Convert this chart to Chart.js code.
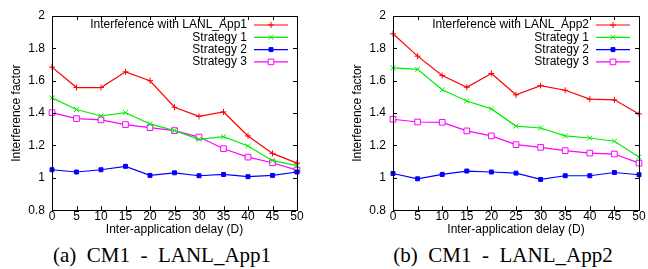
<!DOCTYPE html>
<html>
<head>
<meta charset="utf-8">
<script src="https://cdn.jsdelivr.net/npm/chart.js@4.4.0/dist/chart.umd.min.js"></script>
<style>
  body { margin: 0; background: #fff; }
  #wrap { position: relative; width: 648px; height: 269px; overflow: hidden; }
  .box { position: absolute; top: 0; width: 307px; height: 238px; }
  .cap { position: absolute; top: 243px; font-family: "Liberation Serif", "DejaVu Serif", serif;
         font-size: 21px; white-space: pre; transform: translateX(-50%); }
</style>
</head>
<body>
<div id="wrap">
  <div class="box" style="left:0"><canvas id="c1"></canvas></div>
  <div class="box" style="left:341px"><canvas id="c2"></canvas></div>
  <div class="cap" style="left:162px">(a)  CM1  -  LANL_App1</div>
  <div class="cap" style="left:503px">(b)  CM1  -  LANL_App2</div>
</div>
<script>
// ==== Data ====
const delays = [0, 5, 10, 15, 20, 25, 30, 35, 40, 45, 50];
const yTicks = [0.8, 1, 1.2, 1.4, 1.6, 1.8, 2];

const app1Base = [1.684, 1.558, 1.558, 1.655, 1.60, 1.436, 1.38, 1.407, 1.259, 1.151, 1.091];
const app1S1 = [1.494, 1.422, 1.382, 1.403, 1.333, 1.292, 1.238, 1.254, 1.197, 1.106, 1.075];
const app1S2 = [1.05, 1.036, 1.05, 1.071, 1.015, 1.031, 1.013, 1.021, 1.007, 1.015, 1.036];
const app1S3 = [1.403, 1.366, 1.358, 1.329, 1.31, 1.292, 1.252, 1.18, 1.128, 1.093, 1.048];

const app2Base = [1.89, 1.752, 1.632, 1.56, 1.645, 1.513, 1.57, 1.541, 1.486, 1.482, 1.395];
const app2S1 = [1.68, 1.67, 1.544, 1.475, 1.426, 1.32, 1.308, 1.259, 1.246, 1.226, 1.128];
const app2S2 = [1.027, 0.994, 1.021, 1.042, 1.036, 1.029, 0.99, 1.013, 1.013, 1.033, 1.019];
const app2S3 = [1.362, 1.345, 1.343, 1.29, 1.259, 1.205, 1.188, 1.168, 1.153, 1.147, 1.091];

const FONT = 'Liberation Sans, Arial, Helvetica, sans-serif';

// ==== Series styles ====
function series(label, data, color, style, radius, fill) {
    return {
        label, data,
        borderColor: color,
        backgroundColor: fill || color,
        borderWidth: 1.2,
        pointStyle: style,
        pointRadius: radius,
        pointBorderWidth: 1,
        pointHoverRadius: radius,
        tension: 0
    };
}

// ==== Frame, inside ticks and key (gnuplot look) ====
const gnuplotFrame = {
    id: 'gnuplotFrame',
    afterDatasetsDraw(chart) {
        const ctx = chart.ctx;
        const a = chart.chartArea;
        const xs = chart.scales.x, ys = chart.scales.y;
        ctx.save();
        ctx.strokeStyle = '#000';
        ctx.lineWidth = 1;
        ctx.beginPath();
        yTicks.forEach(v => {
            const y = Math.round(ys.getPixelForValue(v)) + 0.5;
            ctx.moveTo(a.left, y); ctx.lineTo(a.left + 4, y);
            ctx.moveTo(a.right, y); ctx.lineTo(a.right - 4, y);
        });
        delays.forEach((d, i) => {
            const x = Math.round(xs.getPixelForValue(i)) + 0.5;
            ctx.moveTo(x, a.top); ctx.lineTo(x, a.top + 4);
            ctx.moveTo(x, a.bottom); ctx.lineTo(x, a.bottom - 4);
        });
        ctx.stroke();
        ctx.strokeRect(Math.round(a.left) + 0.5, Math.round(a.top) + 0.5,
            Math.round(a.right - a.left), Math.round(a.bottom - a.top));

        // key
        ctx.font = '12px ' + FONT;
        ctx.textAlign = 'right';
        ctx.textBaseline = 'middle';
        chart.data.datasets.forEach((ds, i) => {
            const y = a.top + 9 + i * 12.3;
            ctx.fillStyle = '#000';
            ctx.fillText(ds.label, a.right - 50, y);
            ctx.strokeStyle = ds.borderColor;
            ctx.lineWidth = ds.borderWidth;
            ctx.beginPath();
            ctx.moveTo(a.right - 43, y); ctx.lineTo(a.right - 9, y);
            ctx.stroke();
            ctx.fillStyle = ds.backgroundColor;
            ctx.lineWidth = 1;
            Chart.helpers.drawPoint(ctx, { pointStyle: ds.pointStyle, radius: ds.pointRadius, rotation: 0, borderWidth: 1 }, a.right - 26, y);
        });
        ctx.restore();
    }
};

function makeChart(id, datasets, padRight) {
    return new Chart(document.getElementById(id), {
        type: 'line',
        data: { labels: delays, datasets },
        options: {
            responsive: true,
            maintainAspectRatio: false,
            animation: false,
            layout: { padding: { top: 16, right: padRight, bottom: 1, left: 0 } },
            plugins: { legend: { display: false }, tooltip: { enabled: false } },
            scales: {
                x: {
                    grid: { display: false, drawTicks: false },
                    border: { display: false },
                    ticks: { color: '#000', font: { family: FONT, size: 12 }, padding: -1, maxRotation: 0, autoSkip: false },
                    title: { display: true, text: 'Inter-application delay (D)', color: '#000',
                             font: { family: FONT, size: 12 }, padding: { top: 0, bottom: 0 } }
                },
                y: {
                    min: 0.8, max: 2,
                    afterFit: s => { s.width = 52; },
                    afterBuildTicks: s => { s.ticks = yTicks.map(v => ({ value: v })); },
                    grid: { display: false, drawTicks: false },
                    border: { display: false },
                    ticks: { color: '#000', font: { family: FONT, size: 12 }, padding: 7,
                             callback: v => String(+v.toFixed(1)) },
                    title: { display: true, text: 'Interference factor', color: '#000',
                             font: { family: FONT, size: 12 }, padding: { top: 9, bottom: 0 } }
                }
            }
        },
        plugins: [gnuplotFrame]
    });
}

makeChart('c1', [
    series('Interference with LANL_App1', app1Base, '#ff0000', 'cross', 3),
    series('Strategy 1', app1S1, '#00ee00', 'crossRot', 3.5),
    series('Strategy 2', app1S2, '#0000ff', 'rect', 2.8),
    series('Strategy 3', app1S3, '#ff00ff', 'rect', 4, '#ffffff')
], 10);

makeChart('c2', [
    series('Interference with LANL_App2', app2Base, '#ff0000', 'cross', 3),
    series('Strategy 1', app2S1, '#00ee00', 'crossRot', 3.5),
    series('Strategy 2', app2S2, '#0000ff', 'rect', 2.8),
    series('Strategy 3', app2S3, '#ff00ff', 'rect', 4, '#ffffff')
], 9);
</script>
</body>
</html>
